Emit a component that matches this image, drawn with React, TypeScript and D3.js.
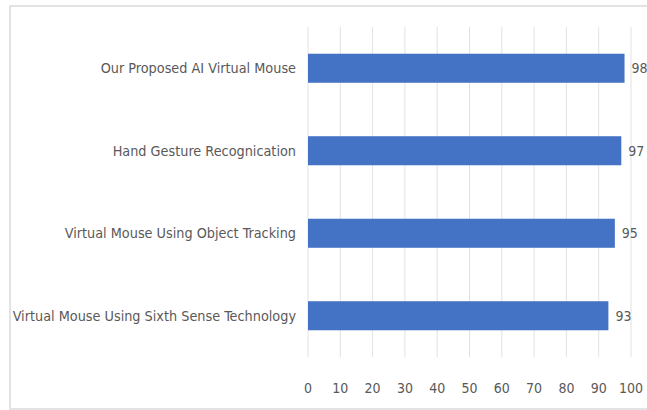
import React from "react";
import * as d3 from "d3";

const categories = [
  "Our Proposed AI Virtual Mouse",
  "Hand Gesture Recognication",
  "Virtual Mouse Using Object Tracking",
  "Virtual Mouse Using Sixth Sense Technology",
];
const values = [98, 97, 95, 93];
const xTicks = [0, 10, 20, 30, 40, 50, 60, 70, 80, 90, 100];

const W = 647;
const H = 410;
const M = { left: 308, right: 16, top: 27, bottom: 53 };
const FONT = "'DejaVu Sans Condensed', 'Liberation Sans Narrow', 'Liberation Sans', sans-serif";

export default function App() {
  const x = d3.scaleLinear().domain([0, 100]).range([M.left, W - M.right]);
  const y = d3
    .scaleBand<string>()
    .domain(categories)
    .range([M.top, H - M.bottom])
    .paddingInner(0.648)
    .paddingOuter(0.324);

  return (
    <svg
      width={W}
      height={H}
      style={{ position: "absolute", left: 0, top: 0, background: "#fff" }}
    >
      <rect x={10} y={6} width={W} height={H - 7} fill="#fff" stroke="#e3e3e3" strokeWidth={2} />
      {xTicks.map((t) => (
        <line key={"g" + t} x1={x(t)} x2={x(t)} y1={M.top} y2={H - M.bottom} stroke="#e2e2e2" strokeWidth={1} />
      ))}
      {categories.map((c, i) => (
        <g key={c}>
          <rect x={x(0)} y={y(c)} width={x(values[i]) - x(0)} height={y.bandwidth()} fill="#4472c4" />
          <text
            x={x(values[i]) + 7}
            y={(y(c) as number) + y.bandwidth() / 2}
            dy="0.35em"
            fontFamily={FONT}
            fontSize={14}
            fill="#595959"
          >
            {values[i]}
          </text>
          <text
            x={296}
            y={(y(c) as number) + y.bandwidth() / 2}
            dy="0.35em"
            textAnchor="end"
            fontFamily={FONT}
            fontSize={14.3}
            fill="#595959"
          >
            {c}
          </text>
        </g>
      ))}
      {xTicks.map((t) => (
        <text key={"t" + t} x={x(t)} y={388} dy="0.35em" textAnchor="middle" fontFamily={FONT} fontSize={14} fill="#595959">
          {t}
        </text>
      ))}
    </svg>
  );
}
